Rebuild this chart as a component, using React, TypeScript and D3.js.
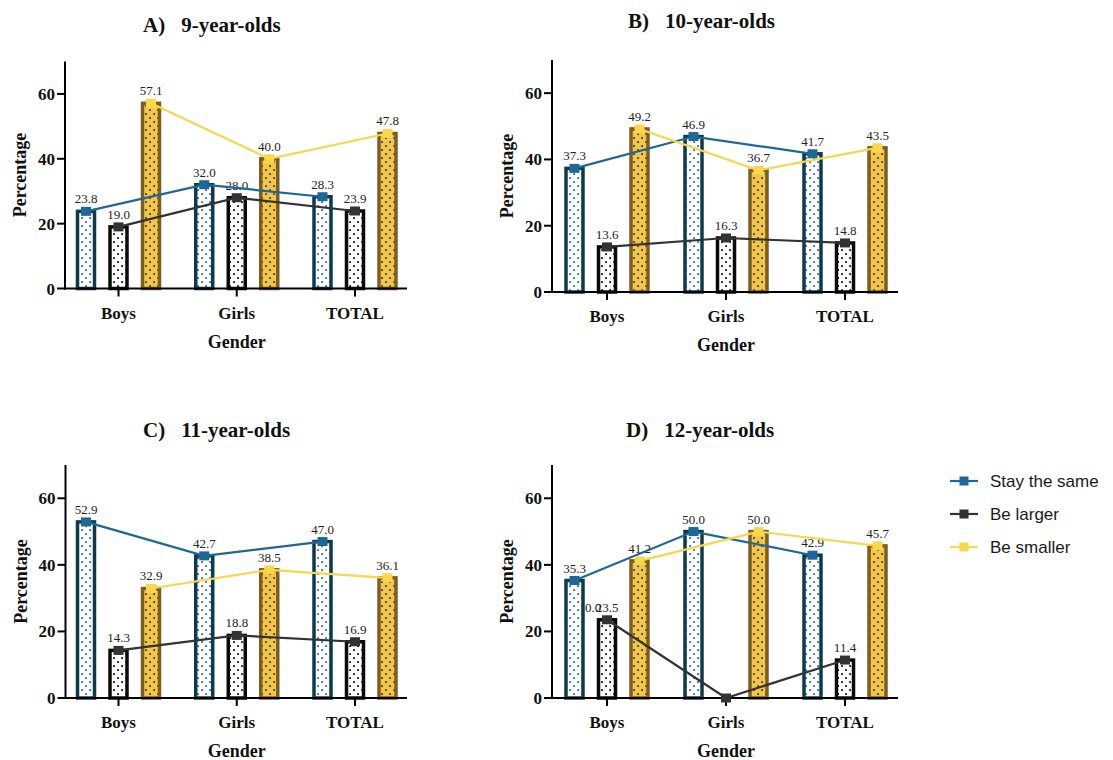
import React from "react";
import * as d3 from "d3";

const categories = ["Boys", "Girls", "TOTAL"];
const seriesNames = ["Stay the same", "Be larger", "Be smaller"];
const yTicks = [0, 20, 40, 60];

const stay9 = [23.8, 32.0, 28.3];
const larger9 = [19.0, 28.0, 23.9];
const smaller9 = [57.1, 40.0, 47.8];

const stay10 = [37.3, 46.9, 41.7];
const larger10 = [13.6, 16.3, 14.8];
const smaller10 = [49.2, 36.7, 43.5];

const stay11 = [52.9, 42.7, 47.0];
const larger11 = [14.3, 18.8, 16.9];
const smaller11 = [32.9, 38.5, 36.1];

const stay12 = [35.3, 50.0, 42.9];
const larger12 = [23.5, 0.0, 11.4];
const smaller12 = [41.2, 50.0, 45.7];

const panelData = [
  { letter: "A)", title: "9-year-olds", series: [stay9, larger9, smaller9] },
  { letter: "B)", title: "10-year-olds", series: [stay10, larger10, smaller10] },
  { letter: "C)", title: "11-year-olds", series: [stay11, larger11, smaller11] },
  { letter: "D)", title: "12-year-olds", series: [stay12, larger12, smaller12] },
];

// layout
const layouts = [
  { axisX: 65, xEnd: 407, y0: 288.5, yTop: 61.5, c0: 118.5, c2: 355, titleX: 143, titleY: 32 },
  { axisX: 552, xEnd: 898, y0: 292, yTop: 60, c0: 607, c2: 845, titleX: 628, titleY: 28 },
  { axisX: 65.5, xEnd: 407, y0: 698, yTop: 465, c0: 118.5, c2: 355, titleX: 143, titleY: 437 },
  { axisX: 552, xEnd: 898, y0: 698, yTop: 465, c0: 607, c2: 845, titleX: 626, titleY: 437 },
];

const lineColors = ["#1f6797", "#333333", "#f8d64e"];
const barFills = ["url(#patBlue)", "url(#patBlack)", "url(#patYellow)"];
const barStrokes = ["#0e3a4e", "#0a0a0a", "#7d5d20"];

const serif = "'Liberation Serif', 'DejaVu Serif', serif";
const sans = "'Liberation Sans', Arial, sans-serif";

function Panel({ idx }: { idx: number }) {
  const L = layouts[idx];
  const P = panelData[idx];
  const y = d3.scaleLinear().domain([0, 70]).range([L.y0, L.yTop]);
  const x = d3.scalePoint<string>().domain(categories).range([L.c0, L.c2]);
  const inner = d3.scalePoint<string>().domain(seriesNames).range([-32.5, 32.5]);
  const barW = 17;
  const line = d3
    .line<[number, number]>()
    .x((d) => d[0])
    .y((d) => d[1]);
  const yMid = (L.y0 + L.yTop) / 2;
  const xMid = (L.c0 + L.c2) / 2;

  return (
    <g>
      <text x={L.titleX} y={L.titleY} fontFamily={serif} fontWeight="bold" fontSize={21} fill="#111">
        {P.letter}
        <tspan dx={16}>{P.title}</tspan>
      </text>
      {/* bars */}
      {P.series.map((vals, si) =>
        vals.map((v, ci) => {
          const cx = (x(categories[ci]) as number) + (inner(seriesNames[si]) as number);
          if (v <= 0) return null;
          return (
            <rect
              key={`b${si}-${ci}`}
              x={cx - barW / 2}
              y={y(v)}
              width={barW}
              height={L.y0 - y(v)}
              fill={barFills[si]}
              stroke={barStrokes[si]}
              strokeWidth={3.5}
            />
          );
        })
      )}
      {/* axes */}
      <line x1={L.axisX} x2={L.axisX} y1={L.y0 + 1} y2={L.yTop} stroke="#000" strokeWidth={2} />
      <line x1={L.axisX - 1} x2={L.xEnd} y1={L.y0} y2={L.y0} stroke="#000" strokeWidth={2} />
      {yTicks.map((t) => (
        <g key={t}>
          <line x1={L.axisX - 8} x2={L.axisX} y1={y(t)} y2={y(t)} stroke="#000" strokeWidth={2} />
          <text
            x={L.axisX - 10}
            y={y(t) + 6}
            textAnchor="end"
            fontFamily={serif}
            fontWeight="bold"
            fontSize={17}
            fill="#111"
          >
            {t}
          </text>
        </g>
      ))}
      {categories.map((c) => (
        <g key={c}>
          <line x1={x(c)} x2={x(c)} y1={L.y0} y2={L.y0 + 8} stroke="#000" strokeWidth={2} />
          <text
            x={x(c)}
            y={L.y0 + 30}
            textAnchor="middle"
            fontFamily={serif}
            fontWeight="bold"
            fontSize={17}
            fill="#111"
          >
            {c}
          </text>
        </g>
      ))}
      <text
        x={xMid}
        y={L.y0 + 59}
        textAnchor="middle"
        fontFamily={serif}
        fontWeight="bold"
        fontSize={18}
        fill="#111"
      >
        Gender
      </text>
      <text
        transform={`translate(${L.axisX - 39},${yMid}) rotate(-90)`}
        textAnchor="middle"
        fontFamily={serif}
        fontWeight="bold"
        fontSize={18}
        fill="#111"
      >
        Percentage
      </text>
      {/* value labels */}
      {P.series.map((vals, si) =>
        vals.map((v, ci) => {
          const cx = (x(categories[ci]) as number) + (inner(seriesNames[si]) as number);
          if (v <= 0) {
            // misplaced label as in the original figure
            const bx = (x(categories[0]) as number) + (inner(seriesNames[si]) as number);
            return (
              <text
                key={`l${si}-${ci}`}
                x={bx - 14}
                y={y(vals[0]) - 8}
                textAnchor="middle"
                fontFamily={serif}
                fontSize={13}
                fill="#222"
              >
                {v.toFixed(1)}
              </text>
            );
          }
          return (
            <text
              key={`l${si}-${ci}`}
              x={cx}
              y={y(v) - 8}
              textAnchor="middle"
              fontFamily={serif}
              fontSize={13}
              fill="#222"
            >
              {v.toFixed(1)}
            </text>
          );
        })
      )}
      {/* lines */}
      {P.series.map((vals, si) => {
        const pts: [number, number][] = vals.map((v, ci) => [
          (x(categories[ci]) as number) + (inner(seriesNames[si]) as number),
          y(v),
        ]);
        return (
          <g key={`ln${si}`}>
            <path d={line(pts) || ""} fill="none" stroke={lineColors[si]} strokeWidth={2.2} />
            {pts.map((p, i) => (
              <rect key={i} x={p[0] - 5} y={p[1] - 4.5} width={10} height={9} fill={lineColors[si]} />
            ))}
          </g>
        );
      })}
    </g>
  );
}

export default function App() {
  const legendY = [481, 514, 547];
  return (
    <svg width={1113} height={760} style={{ position: "absolute", left: 0, top: 0, background: "#fff" }}>
      <defs>
        <pattern id="patBlue" width="8" height="8" patternUnits="userSpaceOnUse">
          <rect width="8" height="8" fill="#ffffff" />
          <rect x="1.2" y="1.2" width="1.8" height="1.8" fill="#2a6aa8" />
          <rect x="5.2" y="5.2" width="1.8" height="1.8" fill="#2a6aa8" />
        </pattern>
        <pattern id="patBlack" width="8" height="8" patternUnits="userSpaceOnUse">
          <rect width="8" height="8" fill="#ffffff" />
          <rect x="1.2" y="1.2" width="1.8" height="1.8" fill="#111" />
          <rect x="5.2" y="5.2" width="1.8" height="1.8" fill="#111" />
        </pattern>
        <pattern id="patYellow" width="8" height="8" patternUnits="userSpaceOnUse">
          <rect width="8" height="8" fill="#f6c63c" />
          <rect x="1.2" y="1.2" width="1.8" height="1.8" fill="#1e3a9a" />
          <rect x="5.2" y="5.2" width="1.8" height="1.8" fill="#1e3a9a" />
        </pattern>
      </defs>
      <rect width={1113} height={760} fill="#fff" />
      {panelData.map((_, i) => (
        <Panel key={i} idx={i} />
      ))}
      {seriesNames.map((s, i) => (
        <g key={s}>
          <line x1={950} x2={978} y1={legendY[i]} y2={legendY[i]} stroke={lineColors[i]} strokeWidth={2.2} />
          <rect x={959.5} y={legendY[i] - 4.5} width={9} height={9} fill={lineColors[i]} />
          <text x={990} y={legendY[i] + 6} fontFamily={sans} fontSize={17} fill="#1a1a1a">
            {s}
          </text>
        </g>
      ))}
    </svg>
  );
}
